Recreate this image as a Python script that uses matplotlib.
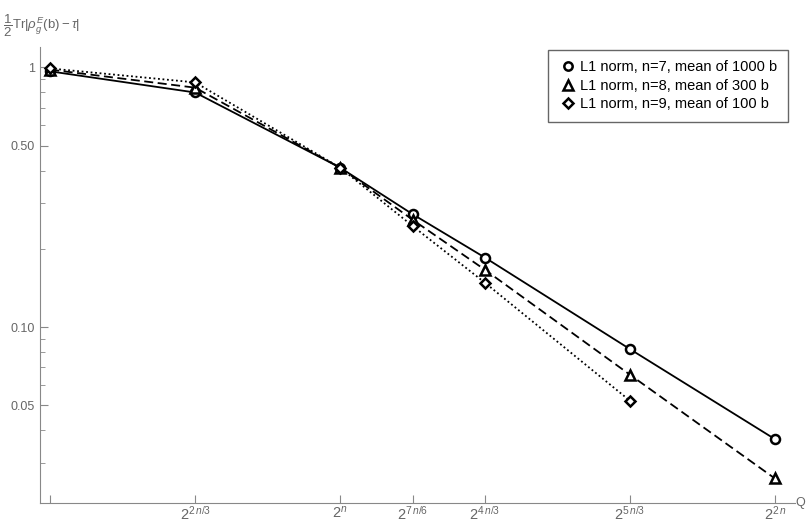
import matplotlib.pyplot as plt
from matplotlib.lines import Line2D

plt.rcParams['font.family'] = ['Liberation Sans', 'DejaVu Sans']
plt.rcParams['mathtext.fontset'] = 'custom'
plt.rcParams['mathtext.rm'] = 'Liberation Sans'
plt.rcParams['mathtext.it'] = 'Liberation Sans:italic'

# exponent k where Q = 2^(k n)
exponents = [1/3, 2/3, 1, 7/6, 4/3, 5/3, 2]
n7_vals = [0.965, 0.80, 0.411, 0.272, 0.185, 0.0822, 0.037]
n8_vals = [0.98, 0.835, 0.411, 0.259, 0.166, 0.0655, 0.0261]
n9_vals = [0.99, 0.875, 0.411, 0.245, 0.148, 0.0520]

tick_pos = [1/3, 2/3, 1, 7/6, 4/3, 5/3, 2]
tick_labels = ['', r'$2^{2\,n/3}$', r'$2^{n}$', r'$2^{7\,n/6}$', r'$2^{4\,n/3}$',
               r'$2^{5\,n/3}$', r'$2^{2\,n}$']
labels = ['L1 norm, n=7, mean of 1000 b',
          'L1 norm, n=8, mean of 300 b',
          'L1 norm, n=9, mean of 100 b']

fig = plt.figure(figsize=(8.07, 5.22), dpi=100)
ax = fig.add_axes([0.0496, 0.0364, 0.9354, 0.874])

mk = dict(markersize=6.5, markeredgewidth=1.8, markerfacecolor='white',
          markeredgecolor='black', color='black', linewidth=1.3)
ax.plot(exponents, n7_vals, marker='o', linestyle='-', **mk)
ax.plot(exponents, n8_vals, marker='^', linestyle=(0, (5, 2.5)), **mk)
ax.plot(exponents[:len(n9_vals)], n9_vals, marker='D', linestyle=(0, (1, 1.5)),
        **dict(mk, markersize=5.5))

ax.set_yscale('log')
ax.set_xlim(0.310, 2.046)
ax.set_ylim(0.021, 1.2)

ax.set_xticks(tick_pos)
ax.set_xticklabels(tick_labels)
ax.set_yticks([0.05, 0.1, 0.5, 1])
ax.set_yticklabels(['0.05', '0.10', '0.50', '1'])
ax.set_yticks([0.03, 0.04, 0.06, 0.07, 0.08, 0.09, 0.2, 0.3, 0.4,
               0.6, 0.7, 0.8, 0.9], minor=True)
ax.yaxis.set_minor_formatter(plt.NullFormatter())

for side in ['top', 'right']:
    ax.spines[side].set_visible(False)
for side in ['left', 'bottom']:
    ax.spines[side].set_color('#888888')
ax.tick_params(axis='both', which='major', direction='in', length=6,
               color='#888888', labelcolor='#666666', labelsize=9)
ax.tick_params(axis='x', labelsize=10.5, pad=1)
ax.tick_params(axis='y', which='minor', direction='in', length=3.5,
               color='#888888')

fig.text(0.992, 0.036, 'Q', color='#666666', fontsize=9, ha='center', va='center')
fig.text(0.004, 0.95, r'$\dfrac{1}{2}\mathrm{Tr}|\rho_g^E\mathrm{(b)}-\tau|$',
         color='#666666', fontsize=9.5, ha='left', va='center')

handles = [Line2D([], [], marker=m, linestyle='none', markersize=s,
                  markeredgewidth=1.8, markerfacecolor='white',
                  markeredgecolor='black')
           for m, s in zip(['o', '^', 'D'], [6, 6.5, 5])]
leg = ax.legend(handles, labels, loc='upper right', bbox_to_anchor=(1.0, 1.01),
                fontsize=10.5, fancybox=False, framealpha=1, edgecolor='#666666',
                handletextpad=0.2, handlelength=1.2, borderpad=0.75, labelspacing=0.3)
leg.get_frame().set_linewidth(1.0)

fig.savefig('out.png', dpi=100)
